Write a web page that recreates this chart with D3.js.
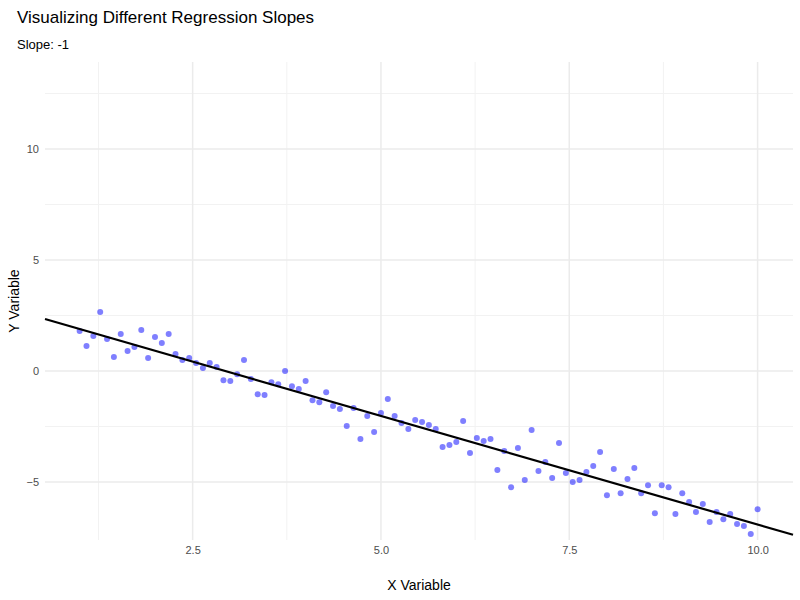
<!DOCTYPE html>
<html>
<head>
<meta charset="utf-8">
<script src="https://cdn.jsdelivr.net/npm/d3@7"></script>
<style>
  body { margin: 0; background: #fff; font-family: "Liberation Sans", Arial, sans-serif; }
</style>
</head>
<body>
<script>
const yValues = [1.80, 1.13, 1.58, 2.66, 1.44, 0.63, 1.67, 0.90, 1.08, 1.85, 0.59, 1.53, 1.26, 1.67, 0.77, 0.50, 0.59, 0.36, 0.14, 0.36,
  0.18, -0.41, -0.45, -0.14, 0.50, -0.36, -1.04, -1.08, -0.50, -0.59, 0.00, -0.68, -0.81, -0.45,
  -1.31, -1.40, -0.95, -1.58, -1.71, -2.48, -1.67, -3.06, -2.03, -2.75, -1.89, -1.26, -2.03, -2.34, -2.61, -2.21,
  -2.30, -2.43, -2.61, -3.42, -3.33, -3.20, -2.25, -3.69, -3.02, -3.15, -3.06, -4.46, -3.60, -5.23, -3.47, -4.91,
  -2.66, -4.50, -4.10,
  -4.82, -3.24, -4.59, -5.00, -4.91, -4.55, -4.28, -3.65, -5.59, -4.41, -5.50, -4.86, -4.37, -5.50, -5.14, -6.40,
  -5.14, -5.23, -6.44, -5.50, -5.90, -6.35, -5.99, -6.80, -6.35, -6.67, -6.44, -6.89, -6.98, -7.34, -6.22];
const xValues = yValues.map((d, i) => 1 + i * 9 / (yValues.length - 1));
const xTicks = [2.5, 5.0, 7.5, 10.0];
const xMinor = [1.25, 3.75, 6.25, 8.75];
const yTicks = [-5, 0, 5, 10];
const yMinor = [-2.5, 2.5, 7.5, 12.5];

const w = 800, h = 600;
const pLeft = 45, pRight = 793, pTop = 62, pBottom = 540;

const xScale = d3.scaleLinear().domain([0.54, 10.47]).range([pLeft, pRight]);
const yScale = d3.scaleLinear().domain([-7.61, 13.92]).range([pBottom, pTop]);

const svg = d3.select('body').append('svg').attr('width', w).attr('height', h);

// grid
const grid = svg.append('g');
grid.selectAll('.xminor').data(xMinor).enter().append('line')
  .attr('x1', d => xScale(d)).attr('x2', d => xScale(d)).attr('y1', pTop).attr('y2', pBottom)
  .attr('stroke', '#f2f2f2').attr('stroke-width', 1);
grid.selectAll('.yminor').data(yMinor).enter().append('line')
  .attr('y1', d => yScale(d)).attr('y2', d => yScale(d)).attr('x1', pLeft).attr('x2', pRight)
  .attr('stroke', '#f2f2f2').attr('stroke-width', 1);
grid.selectAll('.xmajor').data(xTicks).enter().append('line')
  .attr('x1', d => xScale(d)).attr('x2', d => xScale(d)).attr('y1', pTop).attr('y2', pBottom)
  .attr('stroke', '#ebebeb').attr('stroke-width', 1.5);
grid.selectAll('.ymajor').data(yTicks).enter().append('line')
  .attr('y1', d => yScale(d)).attr('y2', d => yScale(d)).attr('x1', pLeft).attr('x2', pRight)
  .attr('stroke', '#ebebeb').attr('stroke-width', 1.5);

// points
svg.selectAll('circle').data(yValues).enter().append('circle')
  .attr('cx', (d, i) => xScale(xValues[i]))
  .attr('cy', d => yScale(d))
  .attr('r', 3)
  .style('fill', 'blue').style('opacity', 0.5);

// least squares line
const mx = d3.mean(xValues), my = d3.mean(yValues);
const b = d3.sum(xValues, (x, i) => (x - mx) * (yValues[i] - my)) / d3.sum(xValues, x => (x - mx) ** 2);
const a = my - b * mx;
const [x0, x1] = xScale.domain();
svg.append('line')
  .attr('x1', xScale(x0)).attr('y1', yScale(a + b * x0))
  .attr('x2', xScale(x1)).attr('y2', yScale(a + b * x1))
  .attr('stroke', '#000').attr('stroke-width', 2.2);

// axes
const xAxis = d3.axisBottom(xScale).tickValues(xTicks).tickSize(0).tickPadding(6).tickFormat(d3.format('.1f'));
const yAxis = d3.axisLeft(yScale).tickValues(yTicks).tickSize(0).tickPadding(6);
const gx = svg.append('g').attr('transform', 'translate(0,' + pBottom + ')').call(xAxis);
const gy = svg.append('g').attr('transform', 'translate(' + pLeft + ',0)').call(yAxis);
[gx, gy].forEach(g => {
  g.select('.domain').remove();
  g.selectAll('text').attr('fill', '#4d4d4d').style('font-size', '11px').style('font-family', '"Liberation Sans", Arial, sans-serif');
});

svg.append('text').text('X Variable').attr('x', (pLeft + pRight) / 2).attr('y', 590)
  .attr('text-anchor', 'middle').style('font-size', '14px');
svg.append('text').text('Y Variable').attr('transform', 'translate(19,' + (pTop + pBottom) / 2 + ')rotate(-90)')
  .attr('text-anchor', 'middle').style('font-size', '14px');
svg.append('text').text('Visualizing Different Regression Slopes').attr('x', 17).attr('y', 23).style('font-size', '17px');
svg.append('text').text('Slope: -1').attr('x', 17).attr('y', 49).style('font-size', '13px');
</script>
</body>
</html>
